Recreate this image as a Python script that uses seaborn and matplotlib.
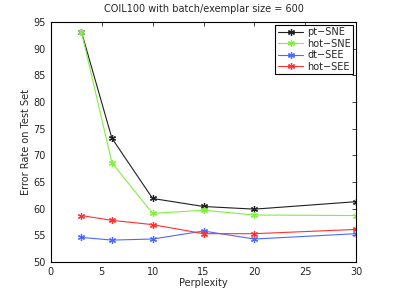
import numpy as np
import pandas as pd
import matplotlib
matplotlib.use('Agg')
import matplotlib.pyplot as plt
import seaborn as sns

perplexity = [3, 6, 10, 15, 20, 30]
pt_sne = [93.2, 73.2, 61.9, 60.4, 59.9, 61.3]
hot_sne = [93.2, 68.6, 59.1, 59.7, 58.8, 58.7]
dt_see = [54.6, 54.1, 54.3, 55.8, 54.3, 55.3]
hot_see = [58.7, 57.8, 57.0, 55.3, 55.3, 56.1]

methods = ['pt\u2212SNE', 'hot\u2212SNE', 'dt\u2212SEE', 'hot\u2212SEE']
series = [pt_sne, hot_sne, dt_see, hot_see]
colors = ['#202020', '#80f040', '#4a6aff', '#ff3030']

df = pd.DataFrame({
    'Perplexity': perplexity * len(methods),
    'Error': sum(series, []),
    'Method': [m for m in methods for _ in perplexity],
})

sns.set_style('white')
plt.rcParams['font.family'] = ['DejaVu Sans']
plt.rcParams['font.size'] = 7

fig = plt.figure(figsize=(3.94, 2.96), dpi=100)
ax = fig.add_axes([0.129, 0.115, 0.775, 0.811])

# MATLAB-like asterisk markers
sns.lineplot(data=df, x='Perplexity', y='Error', hue='Method', palette=colors,
             marker=(6, 2, 0), markersize=5, linewidth=0.8, ax=ax)
for ln in ax.get_lines():
    ln.set_markeredgecolor(ln.get_color())
    ln.set_markeredgewidth(0.9)

ax.set_xlim(0, 30)
ax.set_ylim(50, 95)
ax.set_xticks(range(0, 31, 5))
ax.set_yticks(range(50, 96, 5))
ax.tick_params(direction='in', length=3, labelsize=7, top=True, right=True,
               width=0.6, colors='#222222')
for s in ax.spines.values():
    s.set_color('black')
    s.set_linewidth(0.8)
ax.set_xlabel('Perplexity', fontsize=7, labelpad=1)
ax.set_ylabel('Error Rate on Test Set', fontsize=7, labelpad=2)
ax.set_title('COIL100 with batch/exemplar size = 600', fontsize=7, pad=7)

leg = ax.legend(loc='upper right', fontsize=7, frameon=True, fancybox=False,
                edgecolor='black', framealpha=1, borderpad=0.25,
                handlelength=2.6, handletextpad=0.4, labelspacing=0.15,
                borderaxespad=0.3)
leg.get_frame().set_linewidth(0.8)
for h in leg.get_lines():
    h.set_markeredgecolor(h.get_color())

fig.savefig('out.png', dpi=100)
